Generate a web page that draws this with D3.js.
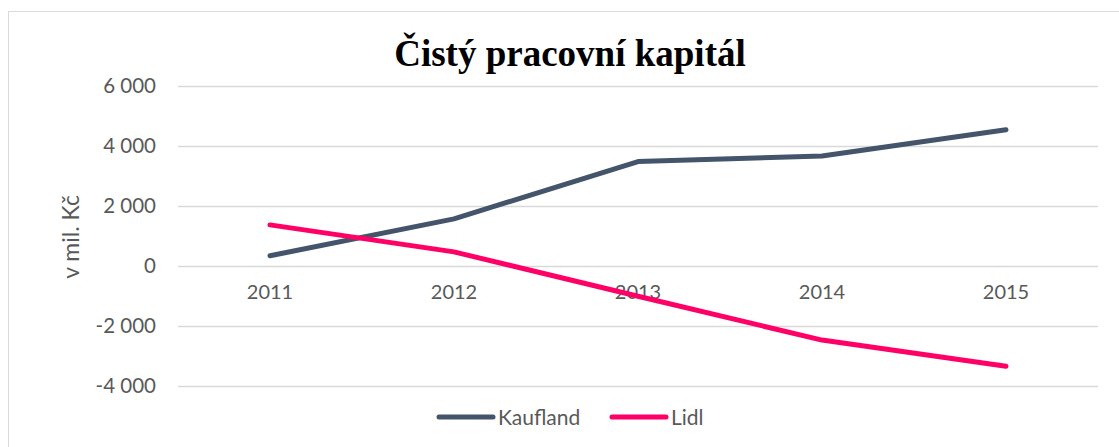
<!DOCTYPE html>
<html>
<head>
<meta charset="utf-8">
<script src="https://cdn.jsdelivr.net/npm/d3@7"></script>
<style>
  body { margin: 0; background: #fff; }
  text { font-family: Lato, "Open Sans", sans-serif; fill: #595959; }
</style>
</head>
<body>
<svg id="chart" width="1119" height="447"></svg>
<script>
// chart data
var years = ["2011", "2012", "2013", "2014", "2015"];
var kaufland = [350, 1580, 3490, 3680, 4550];
var lidl = [1380, 480, -1000, -2460, -3330];
var yTicks = [-4000, -2000, 0, 2000, 4000, 6000];
var seriesNames = ["Kaufland", "Lidl"];
var seriesColours = ["#44546A", "#FF0066"];

var svg = d3.select("#chart");

// outer chart border (right / bottom are cut off in the picture)
svg.append("rect")
  .attr("x", 8.5)
  .attr("y", 11.5)
  .attr("width", 1200)
  .attr("height", 500)
  .attr("fill", "none")
  .attr("stroke", "#d9d9d9")
  .attr("stroke-width", 1);

var left = 178, right = 1098;

var x = d3.scaleBand()
  .domain(years)
  .range([left, right]);

var y = d3.scaleLinear()
  .domain([-4000, 6000])
  .range([386.3, 86.3]);

// horizontal gridlines
svg.append("g")
  .selectAll("line")
  .data(yTicks)
  .enter().append("line")
  .attr("x1", left)
  .attr("x2", right)
  .attr("y1", function(d) { return Math.round(y(d)) + 0.5; })
  .attr("y2", function(d) { return Math.round(y(d)) + 0.5; })
  .attr("stroke", "#d9d9d9")
  .attr("stroke-width", 1.5);

// y axis labels
var yAxis = d3.axisLeft(y)
  .tickValues(yTicks)
  .tickSize(0)
  .tickPadding(0)
  .tickFormat(function(d) {
    return d3.format(",")(d).replace(/,/g, " ").replace("−", "-");
  });

var yG = svg.append("g")
  .attr("transform", "translate(156,0)")
  .call(yAxis);
yG.select(".domain").remove();
yG.selectAll("text")
  .style("font-size", "20.5px")
  .attr("fill", "#595959");

// category labels, sitting just under the zero line
var xAxis = d3.axisBottom(x).tickSize(0).tickPadding(0);
var xG = svg.append("g")
  .attr("transform", "translate(0," + (y(0) + 21) + ")")
  .call(xAxis);
xG.select(".domain").remove();
xG.selectAll("text")
  .style("font-size", "20px")
  .attr("dy", "0.6em")
  .attr("fill", "#595959");

// axis title
svg.append("text")
  .attr("transform", "translate(79,237) rotate(-90)")
  .attr("text-anchor", "middle")
  .style("font-size", "23px")
  .text("v mil. Kč");

// chart title
svg.append("text")
  .attr("x", 570)
  .attr("y", 66)
  .attr("text-anchor", "middle")
  .style("font-family", "'Liberation Serif', 'Times New Roman', serif")
  .style("font-weight", "bold")
  .style("font-size", "37px")
  .style("fill", "#000")
  .text("Čistý pracovní kapitál");

// series lines
var line = d3.line()
  .x(function(d, i) { return x(years[i]) + x.bandwidth() / 2; })
  .y(function(d) { return y(d); });

[kaufland, lidl].forEach(function(values, k) {
  svg.append("path")
    .datum(values)
    .attr("d", line)
    .attr("fill", "none")
    .attr("stroke", seriesColours[k])
    .attr("stroke-width", 5)
    .attr("stroke-linecap", "round")
    .attr("stroke-linejoin", "round");
});

// legend
var legendX = [438, 611];
var legendG = svg.selectAll(".legend")
  .data(seriesNames)
  .enter().append("g")
  .attr("class", "legend")
  .attr("transform", function(d, i) {
    return "translate(" + legendX[i] + ",417)";
  });

legendG.append("line")
  .attr("x1", 1)
  .attr("x2", 55)
  .attr("stroke", function(d, i) { return seriesColours[i]; })
  .attr("stroke-width", 5)
  .attr("stroke-linecap", "round");

legendG.append("text")
  .attr("x", 60)
  .attr("y", 8)
  .style("font-size", "21px")
  .text(function(d) { return d; });
</script>
</body>
</html>
